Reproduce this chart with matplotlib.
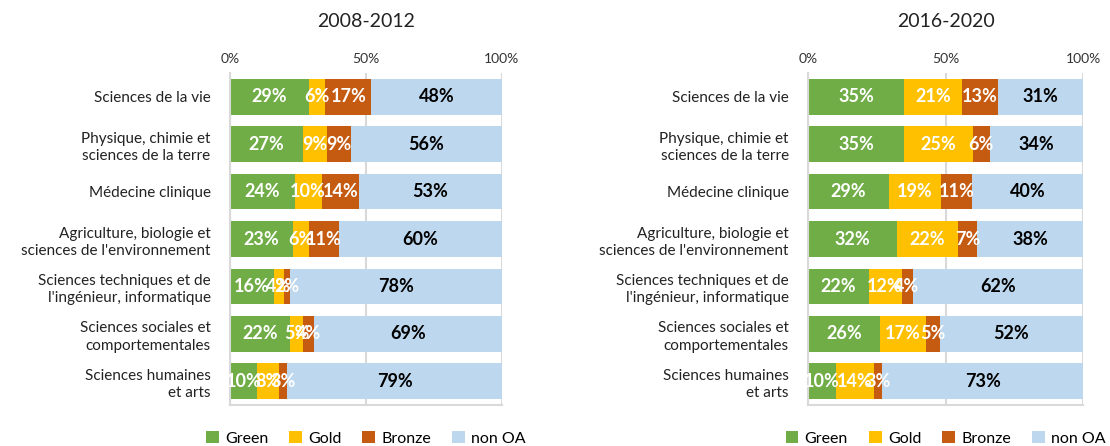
import numpy as np
import matplotlib.pyplot as plt

plt.rcParams['font.family'] = ['Lato', 'DejaVu Sans']

categories = ['Sciences de la vie',
              'Physique, chimie et\nsciences de la terre',
              'Médecine clinique',
              'Agriculture, biologie et\nsciences de l\'environnement',
              'Sciences techniques et de\nl\'ingénieur, informatique',
              'Sciences sociales et\ncomportementales',
              'Sciences humaines\net arts']
series = ['Green', 'Gold', 'Bronze', 'non OA']
colors = ['#70AD47', '#FFC000', '#C55A11', '#BDD7EE']
label_colors = ['white', 'white', 'white', 'black']

# 2008-2012
green_1 = [29, 27, 24, 23, 16, 22, 10]
gold_1 = [6, 9, 10, 6, 4, 5, 8]
bronze_1 = [17, 9, 14, 11, 2, 4, 3]
nonoa_1 = [48, 56, 53, 60, 78, 69, 79]

# 2016-2020
green_2 = [35, 35, 29, 32, 22, 26, 10]
gold_2 = [21, 25, 19, 22, 12, 17, 14]
bronze_2 = [13, 6, 11, 7, 4, 5, 3]
nonoa_2 = [31, 34, 40, 38, 62, 52, 73]

panels = [('2008-2012', [green_1, gold_1, bronze_1, nonoa_1], [0.2072, 0.092, 0.245, 0.744]),
          ('2016-2020', [green_2, gold_2, bronze_2, nonoa_2], [0.728, 0.092, 0.2477, 0.744])]

fig = plt.figure(figsize=(11.1, 4.46), dpi=100)

for title, data, pos in panels:
    ax = fig.add_axes(pos)
    y = np.arange(len(categories))
    raw = np.array(data, dtype=float)
    # rounded shares don't always add to 100, the bars in the original do
    shares = raw / raw.sum(axis=0) * 100
    left = np.zeros(len(categories))
    for vals, lab, col, lc, name in zip(shares, raw, colors, label_colors, series):
        ax.barh(y, vals, left=left, height=0.75, color=col, label=name, zorder=2)
        for yi, l, v, t in zip(y, left, vals, lab):
            ax.text(l + v / 2, yi, f'{int(t)}%', ha='center', va='center',
                    color=lc, fontsize=13, fontweight='bold', zorder=3)
        left += vals
    ax.set_xlim(0, 100)
    ax.set_ylim(len(categories) - 0.5, -0.5)
    ax.set_yticks(y)
    ax.set_yticklabels(categories, fontsize=11, color='#222222', linespacing=1.3)
    ax.set_xticks([0, 50, 100])
    ax.set_xticklabels(['0%', '50%', '100%'], fontsize=10, color='#333333')
    ax.xaxis.tick_top()
    ax.tick_params(axis='x', length=0, pad=6)
    ax.tick_params(axis='y', length=0, pad=14)
    ax.grid(axis='x', color='#D9D9D9', linewidth=1.5, zorder=0)
    for s in ['top', 'right']:
        ax.spines[s].set_visible(False)
    for s in ['left', 'bottom']:
        ax.spines[s].set_color('#D9D9D9')
        ax.spines[s].set_linewidth(1.5)
    ax.set_title(title, fontsize=14, pad=33, color='#222222')
    ax.legend(loc='upper center', bbox_to_anchor=(0.5, -0.035), ncol=4, frameon=False,
              fontsize=11.5, handlelength=0.8, handleheight=0.8, columnspacing=1.3,
              handletextpad=0.4)

fig.savefig('out.png', dpi=100)
